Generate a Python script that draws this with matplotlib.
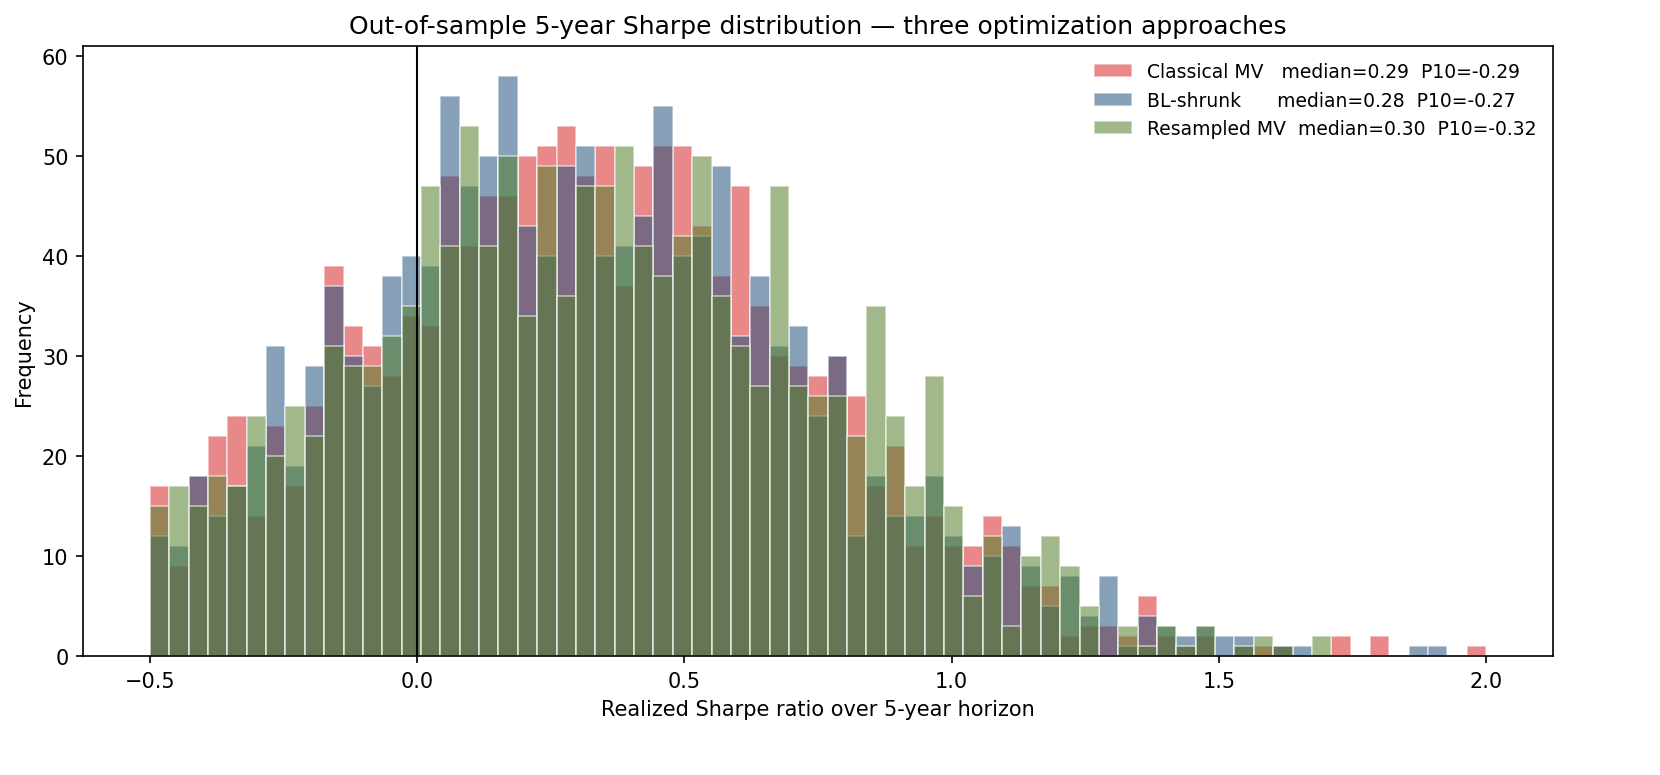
import numpy as np
import matplotlib
matplotlib.use("Agg")
import matplotlib.pyplot as plt

n_bins = 69
x_min, x_max = -0.5, 2.0

classical = [17,9,18,22,24,14,23,17,25,39,33,31,28,34,
             33,48,41,46,46,50,51,53,48,51,37,49,51,51,43,38,47,35,30,29,28,30,26,17,21,11,14,11,11,14,11,7,7,2,3,3,
             2,6,2,1,2,0,1,1,1,0,0,2,0,2,0,0,0,0,1]
bl_shrunk = [12,11,18,14,17,21,31,19,29,37,30,27,38,40,
             39,56,47,50,58,43,40,49,51,40,41,44,55,40,42,49,32,38,31,33,24,30,12,18,14,14,18,12,9,10,13,9,5,8,4,8,
             1,4,3,2,3,2,2,0,1,1,0,0,0,0,0,1,1,0,0]
resampled = [15,17,15,18,17,24,20,25,22,31,29,29,32,35,
             47,41,53,41,50,34,49,36,47,47,51,41,38,42,50,36,31,27,47,27,26,26,22,35,24,17,28,15,6,12,3,10,12,9,5,0,
             3,1,3,1,3,0,1,2,1,0,2,0,0,0,0,0,0,0,0]

labels = ["Classical MV   median=0.29  P10=-0.29",
          "BL-shrunk      median=0.28  P10=-0.27",
          "Resampled MV  median=0.30  P10=-0.32"]
colors = ["#d62728", "#23527e", "#547f2d"]

edges = np.linspace(x_min, x_max, n_bins + 1)
centers = (edges[:-1] + edges[1:]) / 2

fig, ax = plt.subplots(figsize=(16.61 / 1.5, 7.76 / 1.5), dpi=150)
for vals, lab, c in zip([classical, bl_shrunk, resampled], labels, colors):
    ax.hist(centers, bins=edges, weights=vals, color=c, alpha=0.55,
            edgecolor="white", linewidth=0.8, label=lab)
ax.axvline(0, color="black", linewidth=1.0)
ax.set_xlim(-0.625, 2.125)
ax.set_ylim(0, 61)
ax.set_title("Out-of-sample 5-year Sharpe distribution — three optimization approaches", fontsize=12)
ax.set_xlabel("Realized Sharpe ratio over 5-year horizon", fontsize=10)
ax.set_ylabel("Frequency", fontsize=10)
ax.tick_params(labelsize=10)
ax.legend(frameon=False, fontsize=9, loc="upper right")
fig.subplots_adjust(left=0.05, right=0.935, top=0.94, bottom=0.153)
fig.savefig("out.png", dpi=150)
